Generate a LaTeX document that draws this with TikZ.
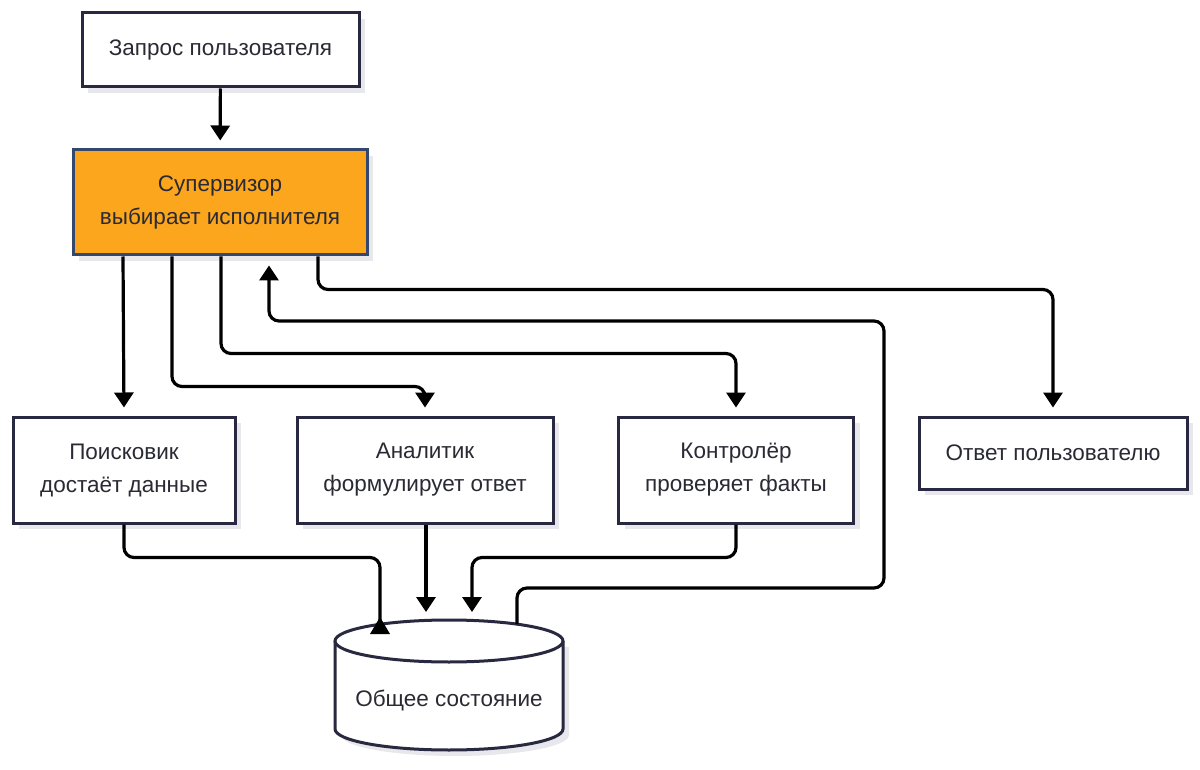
\documentclass[tikz,border=0pt]{standalone}
\usepackage{fontspec}
\setmainfont{Liberation Sans}
\usetikzlibrary{arrows.meta,shadows,calc}
\definecolor{boxline}{RGB}{40,40,64}
\definecolor{supline}{RGB}{52,72,110}
\definecolor{supfill}{RGB}{251,166,28}
\definecolor{txt}{RGB}{42,42,52}
\definecolor{shadowc}{RGB}{232,232,236}
\begin{document}
\begin{tikzpicture}[x=1pt,y=-1pt,
  box/.style={draw=boxline, line width=3pt, fill=white, inner sep=0pt,
    align=center, text=txt, font=\fontsize{22.5}{33}\selectfont,
    drop shadow={shadow xshift=6pt,shadow yshift=-6pt,fill=shadowc,opacity=1}},
  conn/.style={line width=3.2pt, rounded corners=10pt, draw=black},
  arr/.style={conn, -{Triangle[length=15pt,width=19pt]}, shorten >=8pt},
  lbl/.style={text=txt, font=\fontsize{22.5}{33}\selectfont}]
\useasboundingbox (0,0) rectangle (1200,770);

% nodes
\node[box, minimum width=277pt, minimum height=74pt] (q) at (220.5,50) {Запрос пользователя};
\node[box, draw=supline, fill=supfill, minimum width=294pt, minimum height=105pt] (sup) at (220,202.5) {Супервизор\\выбирает исполнителя};
\node[box, minimum width=222pt, minimum height=106pt] (s) at (124,470) {Поисковик\\достаёт данные};
\node[box, minimum width=256pt, minimum height=106pt] (a) at (425,470) {Аналитик\\формулирует ответ};
\node[box, minimum width=235pt, minimum height=106pt] (c) at (736,470) {Контролёр\\проверяет факты};
\node[box, minimum width=268pt, minimum height=72pt] (o) at (1053,453) {Ответ пользователю};

% cylinder
\fill[shadowc] (341,647) -- (341,735) arc[start angle=180,end angle=360,x radius=114pt,y radius=21pt] -- (569,647) -- cycle;
\fill[white] (335,641) -- (335,729) arc[start angle=180,end angle=360,x radius=114pt,y radius=21pt] -- (563,641) -- cycle;
\draw[boxline, line width=3pt] (335,641) -- (335,729) arc[start angle=180,end angle=360,x radius=114pt,y radius=21pt] -- (563,641);
\draw[boxline, line width=3pt, fill=white] (449,641) ellipse[x radius=114pt,y radius=21pt];
\node[lbl] (db) at (449,700) {Общее состояние};
\coordinate (dbL) at (380,630);
\coordinate (dbA) at (426,620);
\coordinate (dbC) at (472,620);
\coordinate (dbR) at (517,624);

% connectors
\draw[arr] (q) -- (sup);
\draw[arr] ([xshift=-97pt]sup.south) -- (s.north);
\draw[arr] ([xshift=-48pt]sup.south) -- ++(0,130) -| (a.north);
\draw[arr] ([xshift=1pt]sup.south) -- ++(0,97) -| (c.north);
\draw[arr] ([xshift=98pt]sup.south) -- ++(0,33) -| (o.north);
\draw[arr, shorten >=9pt] (dbR) -- ++(0,-36) -| ++(367,-267) -| ([xshift=49pt]sup.south);

\draw[conn] (s.south) -- ++(0,33) -| (dbL);
\fill (370,634) -- (390,634) -- (380,617) -- cycle;
\draw[arr] (a.south -| dbA) -- (dbA);
\draw[arr] (c.south) -- ++(0,33) -| (dbC);
\end{tikzpicture}
\end{document}
